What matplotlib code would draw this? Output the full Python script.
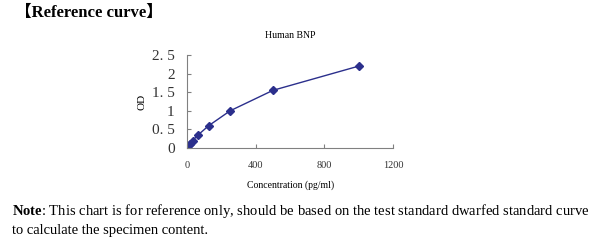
import matplotlib.pyplot as plt
from matplotlib.ticker import FixedLocator, FixedFormatter

plt.rcParams["mathtext.fontset"] = "custom"
plt.rcParams["mathtext.rm"] = "Liberation Serif"
plt.rcParams["mathtext.bf"] = "Liberation Serif:bold"

conc = [0, 7.8, 15.6, 31.25, 62.5, 125, 250, 500, 1000]
od = [0.05, 0.08, 0.12, 0.2, 0.35, 0.6, 1.0, 1.55, 2.2]
yticks = [0, 0.5, 1, 1.5, 2, 2.5]
ylabels = ["0", "0. 5", "1", "1. 5", "2", "2. 5"]
xticks = [0, 400, 800, 1200]

navy = "#2b2f8c"
grey = "#808080"

fig = plt.figure(figsize=(6, 2.42), dpi=100)
ax = fig.add_axes([0.312, 0.388, 0.343, 0.385])

ax.plot(conc, od, color=navy, lw=1, marker="D", ms=4.5, mfc=navy, mec=navy)
ax.set_xlim(0, 1200)
ax.set_ylim(0, 2.5)
ax.yaxis.set_major_locator(FixedLocator(yticks))
ax.yaxis.set_major_formatter(FixedFormatter(ylabels))
ax.set_xticks(xticks)

for s in ["top", "right"]:
    ax.spines[s].set_visible(False)
for s in ["left", "bottom"]:
    ax.spines[s].set_color(grey)
    ax.spines[s].set_linewidth(0.8)

ax.tick_params(axis="y", direction="in", length=3, color=grey, labelsize=11, pad=9,
               labelcolor="#333333")
ax.tick_params(axis="x", direction="in", length=3, color=grey, labelsize=7.5, pad=9,
               labelcolor="#333333")
for lab in ax.get_yticklabels() + ax.get_xticklabels():
    lab.set_family("Liberation Serif")

ax.set_title("Human BNP", fontsize=7, family="Liberation Serif", pad=12)
ax.set_xlabel("Concentration (pg/ml)", fontsize=7, family="Liberation Serif", labelpad=8)
ax.set_ylabel("OD", fontsize=8, family="Liberation Serif", labelpad=4)

fig.text(0.025, 0.945, "【Reference curve】", fontsize=12, weight="bold",
         family=["Liberation Serif", "Noto Sans CJK SC"], va="center")
fig.text(0.02, 0.13, r"$\mathbf{Note}$: This chart is for reference only, should be based on the test standard dwarfed standard curve",
         fontsize=10.5, family="Liberation Serif", va="center")
fig.text(0.02, 0.047, "to calculate the specimen content.", fontsize=10.5,
         family="Liberation Serif", va="center")

fig.savefig("out.png", dpi=100)
